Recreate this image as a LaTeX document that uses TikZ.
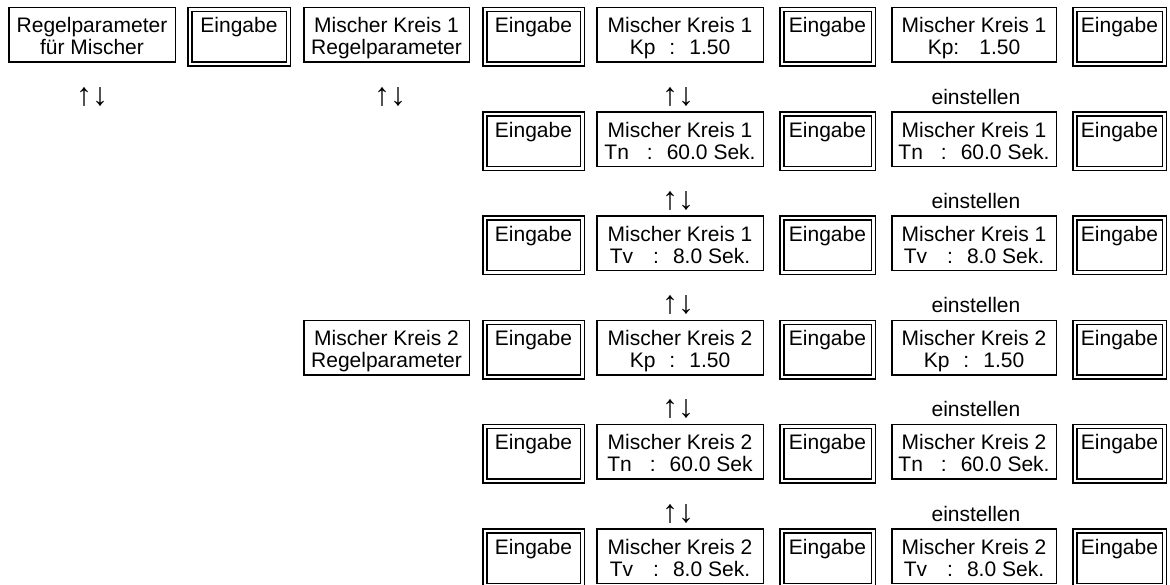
\documentclass[tikz,border=0pt]{standalone}
\usepackage{fontspec}
\setmainfont{Liberation Sans}
\usepackage{tikz}
\newcommand{\oben}{\rule{0pt}{25.25pt}}
\newcommand{\unten}{\rule[-7.25pt]{0pt}{7.25pt}}
\newcommand{\zwei}[2]{\oben#1\\#2\unten}
\newcommand{\wert}[3]{#1\hspace{#3}:\hspace{14pt}#2}

\begin{document}
\begin{tikzpicture}[x=1pt,y=-1pt,
  every node/.style={font=\fontsize{21}{22}\selectfont, outer sep=0pt},
  anzeige/.style={draw, line width=1.5pt, anchor=north west, inner xsep=0pt,
    inner ysep=0pt, minimum height=54.5pt, align=center},
  eingabe/.style={draw, line width=1.5pt, double, double distance=2.5pt,
    anchor=north west, inner xsep=0pt, inner ysep=0pt, minimum height=54.5pt,
    text height=23.25pt, text depth=31.25pt},
  pfeil/.style={anchor=base, font=\fontsize{32}{34}\selectfont},
  hinweis/.style={anchor=base}]
  \useasboundingbox (0,0) rectangle (1170,585);
  % erste Zeile
  \node[anzeige, minimum width=166.5pt] (regel) at (8.75,7.75)
    {\zwei{Regelparameter}{für Mischer}};
  \node[eingabe, minimum width=98.5pt] (eA) at (189.75,9.75) {Eingabe};
  \node[anzeige, minimum width=165.5pt] (mkeins) at (303.75,7.75)
    {\zwei{Mischer Kreis 1}{Regelparameter}};
  \node[eingabe, minimum width=97.5pt] (eB1) at (484.75,9.75) {Eingabe};
  \node[anzeige, minimum width=166.5pt] (kpeins) at (596.75,7.75)
    {\zwei{Mischer Kreis 1}{\wert{Kp}{1.50}{14pt}}};
  \node[eingabe, minimum width=91.5pt] (eC1) at (781.75,9.75) {Eingabe};
  \node[anzeige, minimum width=164.5pt] (kpeinsneu) at (891.75,7.75)
    {\zwei{Mischer Kreis 1}{Kp:\hspace{20pt}1.50}};
  \node[eingabe, minimum width=89.5pt] (eD1) at (1074.75,9.75) {Eingabe};
  \node[pfeil] (pa) at (92,106) {↑↓};
  \node[pfeil] (pb) at (390,106) {↑↓};
  \node[pfeil] (pc1) at (678,106) {↑↓};
  \node[hinweis] (ein1) at (976,105) {einstellen};
  % Tn Kreis 1
  \node[eingabe, minimum width=97.5pt] (eB2) at (484.75,113.95) {Eingabe};
  \node[anzeige, minimum width=166.5pt] (tneins) at (596.75,111.95)
    {\zwei{Mischer Kreis 1}{\wert{Tn}{60.0 Sek.}{18pt}}};
  \node[eingabe, minimum width=91.5pt] (eC2) at (781.75,113.95) {Eingabe};
  \node[anzeige, minimum width=164.5pt] (tneinsneu) at (891.75,111.95)
    {\zwei{Mischer Kreis 1}{\wert{Tn}{60.0 Sek.}{18pt}}};
  \node[eingabe, minimum width=89.5pt] (eD2) at (1074.75,113.95) {Eingabe};
  \node[pfeil] (pc2) at (678,209.4) {↑↓};
  \node[hinweis] (ein2) at (976,208.4) {einstellen};
  % Tv Kreis 1
  \node[eingabe, minimum width=97.5pt] (eB3) at (484.75,218.15) {Eingabe};
  \node[anzeige, minimum width=166.5pt] (tveins) at (596.75,216.15)
    {\zwei{Mischer Kreis 1}{\wert{Tv}{8.0 Sek.}{20pt}}};
  \node[eingabe, minimum width=91.5pt] (eC3) at (781.75,218.15) {Eingabe};
  \node[anzeige, minimum width=164.5pt] (tveinsneu) at (891.75,216.15)
    {\zwei{Mischer Kreis 1}{\wert{Tv}{8.0 Sek.}{20pt}}};
  \node[eingabe, minimum width=89.5pt] (eD3) at (1074.75,218.15) {Eingabe};
  \node[pfeil] (pc3) at (678,313.6) {↑↓};
  \node[hinweis] (ein3) at (976,312.6) {einstellen};
  % Kreis 2
  \node[anzeige, minimum width=165.5pt] (mkzwei) at (303.75,320.35)
    {\zwei{Mischer Kreis 2}{Regelparameter}};
  \node[eingabe, minimum width=97.5pt] (eB4) at (484.75,322.35) {Eingabe};
  \node[anzeige, minimum width=166.5pt] (kpzwei) at (596.75,320.35)
    {\zwei{Mischer Kreis 2}{\wert{Kp}{1.50}{14pt}}};
  \node[eingabe, minimum width=91.5pt] (eC4) at (781.75,322.35) {Eingabe};
  \node[anzeige, minimum width=164.5pt] (kpzweineu) at (891.75,320.35)
    {\zwei{Mischer Kreis 2}{\wert{Kp}{1.50}{14pt}}};
  \node[eingabe, minimum width=89.5pt] (eD4) at (1074.75,322.35) {Eingabe};
  \node[pfeil] (pc4) at (678,417.8) {↑↓};
  \node[hinweis] (ein4) at (976,416.8) {einstellen};
  % Tn Kreis 2
  \node[eingabe, minimum width=97.5pt] (eB5) at (484.75,426.55) {Eingabe};
  \node[anzeige, minimum width=166.5pt] (tnzwei) at (596.75,424.55)
    {\zwei{Mischer Kreis 2}{\wert{Tn}{60.0 Sek}{18pt}}};
  \node[eingabe, minimum width=91.5pt] (eC5) at (781.75,426.55) {Eingabe};
  \node[anzeige, minimum width=164.5pt] (tnzweineu) at (891.75,424.55)
    {\zwei{Mischer Kreis 2}{\wert{Tn}{60.0 Sek.}{18pt}}};
  \node[eingabe, minimum width=89.5pt] (eD5) at (1074.75,426.55) {Eingabe};
  \node[pfeil] (pc5) at (678,522) {↑↓};
  \node[hinweis] (ein5) at (976,521) {einstellen};
  % Tv Kreis 2
  \node[eingabe, minimum width=97.5pt] (eB6) at (484.75,530.75) {Eingabe};
  \node[anzeige, minimum width=166.5pt] (tvzwei) at (596.75,528.75)
    {\zwei{Mischer Kreis 2}{\wert{Tv}{8.0 Sek.}{20pt}}};
  \node[eingabe, minimum width=91.5pt] (eC6) at (781.75,530.75) {Eingabe};
  \node[anzeige, minimum width=164.5pt] (tvzweineu) at (891.75,528.75)
    {\zwei{Mischer Kreis 2}{\wert{Tv}{8.0 Sek.}{20pt}}};
  \node[eingabe, minimum width=89.5pt] (eD6) at (1074.75,530.75) {Eingabe};
\end{tikzpicture}
\end{document}
